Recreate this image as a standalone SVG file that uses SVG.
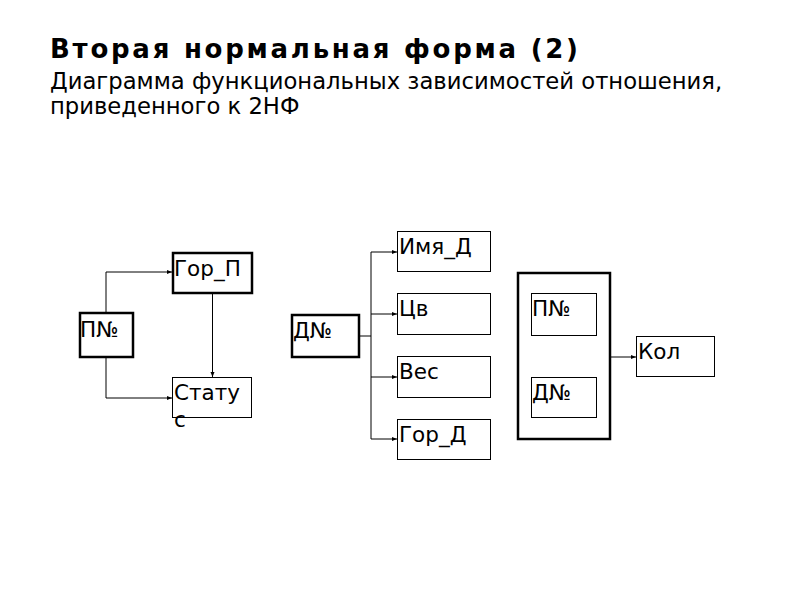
<svg xmlns="http://www.w3.org/2000/svg" width="800" height="600" viewBox="0 0 800 600">
<defs>
<style>
.t{font-family:"DejaVu Sans","Noto Sans",sans-serif;fill:#000}
.title{font-size:26px;font-weight:bold}
.sub{font-size:22.7px}
.lbl{font-size:21.5px}
.thick{fill:#fff;stroke:#000;stroke-width:2.5}
.thin{fill:#fff;stroke:#000;stroke-width:1}
.c{fill:none;stroke:#000;stroke-width:1}
</style>
<marker id="a" markerWidth="6" markerHeight="6" refX="5" refY="3" orient="auto" markerUnits="userSpaceOnUse">
<path d="M0,1 L5,3 L0,5 Z" fill="#000"/>
</marker>
</defs>
<rect width="800" height="600" fill="#fff"/>
<text class="t title" x="50" y="58" textLength="528" lengthAdjust="spacing">Вторая нормальная форма (2)</text>
<text class="t sub" x="50" y="89">Диаграмма функциональных зависимостей отношения,</text>
<text class="t sub" x="50" y="114">приведенного к 2НФ</text>

<g id="connectors">
<path class="c" d="M106,312 V272 H172" marker-end="url(#a)"/>
<path class="c" d="M106,357 V398 H172" marker-end="url(#a)"/>
<path class="c" d="M212.5,293 V377" marker-end="url(#a)"/>
<path class="c" d="M359,336 H371"/>
<path class="c" d="M371,252 V439"/>
<path class="c" d="M371,252 H397" marker-end="url(#a)"/>
<path class="c" d="M371,314 H397" marker-end="url(#a)"/>
<path class="c" d="M371,377 H397" marker-end="url(#a)"/>
<path class="c" d="M371,439 H397" marker-end="url(#a)"/>
<path class="c" d="M610,357 H636" marker-end="url(#a)"/>
</g>

<g id="pno">
<rect class="thick" x="80" y="313" width="53" height="44"/>
<text class="t lbl" x="80" y="337">П№</text>
</g>
<g id="gor_p">
<rect class="thick" x="173" y="253" width="79" height="40"/>
<text class="t lbl" x="174" y="276">Гор_П</text>
</g>
<g id="status">
<rect class="thin" x="172.5" y="377.5" width="79" height="40"/>
<text class="t lbl" x="174" y="400">Стату</text>
<text class="t lbl" x="174" y="427">с</text>
</g>

<g id="dno">
<rect class="thick" x="292" y="315" width="67" height="42"/>
<text class="t lbl" x="293" y="338">Д№</text>
</g>
<g id="imya_d">
<rect class="thin" x="397.5" y="231.5" width="93" height="40"/>
<text class="t lbl" x="399" y="254">Имя_Д</text>
</g>
<g id="cv">
<rect class="thin" x="397.5" y="293.5" width="93" height="41"/>
<text class="t lbl" x="399" y="316">Цв</text>
</g>
<g id="ves">
<rect class="thin" x="397.5" y="356.5" width="93" height="41"/>
<text class="t lbl" x="399" y="379">Вес</text>
</g>
<g id="gor_d">
<rect class="thin" x="397.5" y="419.5" width="93" height="40"/>
<text class="t lbl" x="399" y="442">Гор_Д</text>
</g>

<g id="key">
<rect class="thick" x="518" y="273" width="92" height="166"/>
</g>
<g id="key_pno">
<rect class="thin" x="531.5" y="293.5" width="65" height="42"/>
<text class="t lbl" x="532" y="316">П№</text>
</g>
<g id="key_dno">
<rect class="thin" x="531.5" y="377.5" width="65" height="40"/>
<text class="t lbl" x="532" y="400">Д№</text>
</g>
<g id="kol">
<rect class="thin" x="636.5" y="336.5" width="78" height="40"/>
<text class="t lbl" x="638" y="359">Кол</text>
</g>
</svg>
